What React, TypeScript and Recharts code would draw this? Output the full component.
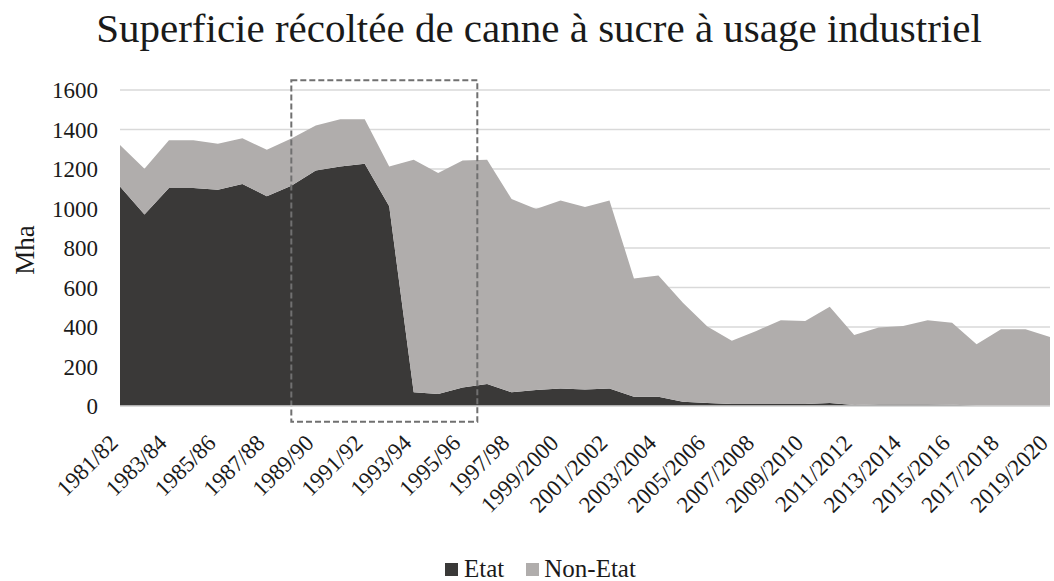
import React from 'react';
import { AreaChart, Area, XAxis, YAxis, CartesianGrid, Legend, ReferenceArea } from 'recharts';

const seasons = [
  '1981/82', '1982/83', '1983/84', '1984/85', '1985/86', '1986/87', '1987/88', '1988/89',
  '1989/90', '1990/91', '1991/92', '1992/93', '1993/94', '1994/95', '1995/96', '1996/97',
  '1997/98', '1998/99', '1999/2000', '2000/2001', '2001/2002', '2002/2003', '2003/2004',
  '2004/2005', '2005/2006', '2006/2007', '2007/2008', '2008/2009', '2009/2010', '2010/2011',
  '2011/2012', '2012/2013', '2013/2014', '2014/2015', '2015/2016', '2016/2017', '2017/2018',
  '2018/2019', '2019/2020',
];

const etat = [
  1112, 969, 1104, 1104, 1095, 1124, 1062, 1115, 1193, 1213, 1227, 1011, 69, 61, 94, 111,
  69, 81, 89, 84, 89, 47, 47, 22, 15, 10, 10, 10, 10, 15, 5, 8, 8, 8, 6, 3, 2, 2, 2,
];

const nonEtat = [
  210, 232, 242, 242, 233, 232, 235, 240, 227, 239, 225, 202, 1178, 1119, 1149, 1136,
  979, 917, 951, 924, 951, 599, 614, 501, 387, 320, 370, 424, 420, 488, 355, 390, 397,
  426, 416, 310, 387, 387, 348,
];

const yTicks = [0, 200, 400, 600, 800, 1000, 1200, 1400, 1600];
const xTicks = [0, 2, 4, 6, 8, 10, 12, 14, 16, 18, 20, 22, 24, 26, 28, 30, 32, 34, 36, 38];

// highlighted period (dashed box): from 1988/89 to mid-way after 1995/96
const boxStart = 7;
const boxEnd = 14.6;
const boxLow = -80;
const boxHigh = 1650;

const data = seasons.map((s, i) => ({ idx: i, season: s, etat: etat[i], nonEtat: nonEtat[i] }));

const FONT = '"Liberation Serif", "Times New Roman", serif';
const DARK = '#3a3938';
const GREY = '#b0adac';

const XTick = (props: any) => {
  const { x, y, payload } = props;
  const tx = x - 6;
  const ty = y + 31;
  return (
    <text
      x={tx}
      y={ty}
      transform={`rotate(-45, ${tx}, ${ty})`}
      textAnchor="end"
      dominantBaseline="central"
      fontFamily={FONT}
      fontSize={23}
      fill="#1a1a1a"
    >
      {seasons[payload.value]}
    </text>
  );
};

const LegendContent = () => (
  <div
    style={{
      height: 40,
      boxSizing: 'border-box',
      paddingTop: 16,
      paddingLeft: 445,
      display: 'flex',
      alignItems: 'center',
      fontFamily: FONT,
      fontSize: 25,
      color: '#1a1a1a',
      lineHeight: '24px',
    }}
  >
    <span style={{ display: 'inline-block', width: 13, height: 13, background: DARK, marginRight: 6 }} />
    <span style={{ marginRight: 22 }}>Etat</span>
    <span style={{ display: 'inline-block', width: 13, height: 13, background: GREY, marginRight: 5 }} />
    <span>Non-Etat</span>
  </div>
);

const YLabel = (props: any) => {
  const vb = props.viewBox || { x: 0, y: 90, width: 120, height: 316 };
  const cx = vb.x + 25;
  const cy = vb.y + vb.height / 2 + 2;
  return (
    <text
      x={cx}
      y={cy}
      transform={`rotate(-90, ${cx}, ${cy})`}
      textAnchor="middle"
      dominantBaseline="central"
      fontFamily={FONT}
      fontSize={27}
      fill="#1a1a1a"
    >
      Mha
    </text>
  );
};

export default function App() {
  return (
    <div style={{ position: 'absolute', left: 0, top: 0, width: 1054, height: 581, background: '#fff' }}>
      <div
        style={{
          position: 'absolute',
          top: 8,
          left: 0,
          width: 1078,
          textAlign: 'center',
          fontFamily: FONT,
          fontSize: 41,
          lineHeight: '41px',
          color: '#1a1a1a',
          whiteSpace: 'nowrap',
        }}
      >
        Superficie récoltée de canne à sucre à usage industriel
      </div>
      <AreaChart width={1054} height={581} data={data} margin={{ top: 90, right: 4, bottom: 0, left: 0 }}>
        <CartesianGrid vertical={false} stroke="#d9d9d9" strokeWidth={1.5} />
        <XAxis
          dataKey="idx"
          type="number"
          domain={[0, 38]}
          ticks={xTicks}
          interval={0}
          height={135}
          tickLine={false}
          tickSize={0}
          axisLine={{ stroke: '#d9d9d9', strokeWidth: 1.5 }}
          tick={<XTick />}
        />
        <YAxis
          width={120}
          domain={[0, 1600]}
          ticks={yTicks}
          tickLine={false}
          axisLine={false}
          tickSize={0}
          tickMargin={22}
          tick={{ fontFamily: FONT, fontSize: 23, fill: '#1a1a1a' }}
          label={<YLabel />}
        />
        <Area
          type="linear"
          dataKey="etat"
          name="Etat"
          stackId="1"
          stroke="none"
          fill={DARK}
          fillOpacity={1}
          isAnimationActive={false}
        />
        <Area
          type="linear"
          dataKey="nonEtat"
          name="Non-Etat"
          stackId="1"
          stroke="none"
          fill={GREY}
          fillOpacity={1}
          isAnimationActive={false}
        />
        <ReferenceArea
          x1={boxStart}
          x2={boxEnd}
          y1={boxLow}
          y2={boxHigh}
          ifOverflow="visible"
          fill="none"
          fillOpacity={0}
          stroke="#707070"
          strokeWidth={2}
          strokeDasharray="6 3"
        />
        <Legend verticalAlign="bottom" height={40} wrapperStyle={{ height: 40 }} content={<LegendContent />} />
      </AreaChart>
    </div>
  );
}
